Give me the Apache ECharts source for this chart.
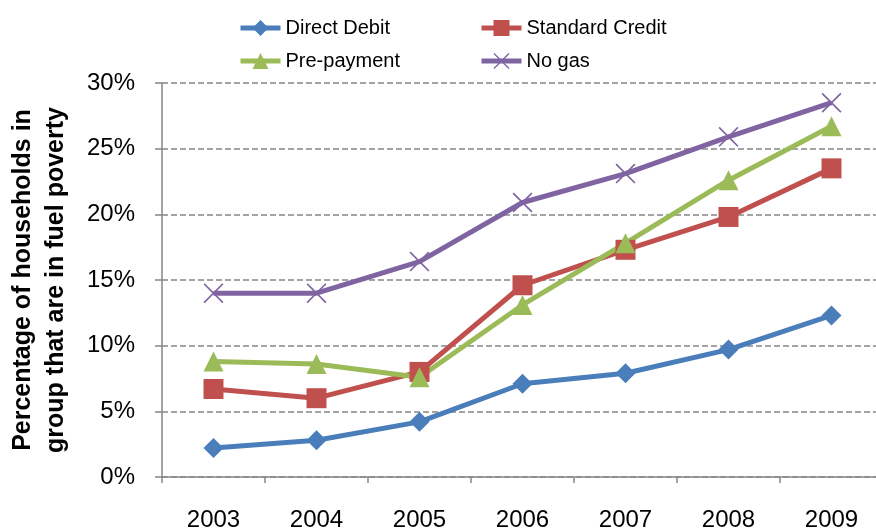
<!DOCTYPE html>
<html>
<head>
<meta charset="utf-8">
<script src="https://cdn.jsdelivr.net/npm/echarts@6/dist/echarts.min.js"></script>
<style>
html,body{margin:0;padding:0;background:#fff;}
#chart{width:876px;height:529px;}
</style>
</head>
<body>
<div id="chart"></div>
<script>
var years = ['2003','2004','2005','2006','2007','2008','2009'];
var directDebit = [2.2, 2.8, 4.2, 7.1, 7.9, 9.7, 12.3];
var standardCredit = [6.7, 6.0, 8.0, 14.6, 17.3, 19.8, 23.5];
var prePayment = [8.8, 8.6, 7.6, 13.1, 17.8, 22.6, 26.7];
var noGas = [14.0, 14.0, 16.4, 20.9, 23.1, 25.9, 28.5];
var yTicks = [0, 5, 10, 15, 20, 25, 30];

var crossPath = 'path://M0,6L6,0L50,44L94,0L100,6L56,50L100,94L94,100L50,56L6,100L0,94L44,50Z';
var gray = '#868686';
var fontMain = 'Liberation Sans, Arial, sans-serif';

var chart = echarts.init(document.getElementById('chart'));

function mkSeries(name, data, color, symbol, size) {
  return {
    name: name,
    type: 'line',
    data: data,
    symbol: symbol,
    symbolSize: size,
    showAllSymbol: true,
    lineStyle: { color: color, width: 5 },
    itemStyle: { color: color },
    emphasis: { disabled: true },
    z: 3
  };
}

function mkLegend(left, names) {
  return {
    orient: 'vertical',
    left: left, top: 18,
    padding: 0,
    itemWidth: 40, itemHeight: 20, itemGap: 13,
    lineStyle: { width: 5 },
    data: names,
    textStyle: { fontFamily: fontMain, fontSize: 20, color: '#000' }
  };
}

chart.setOption({
  animation: false,
  backgroundColor: '#fff',
  grid: { left: 162, right: -7, top: 83, bottom: 52, containLabel: false, outerBoundsMode: 'none' },
  legend: [
    mkLegend(238, ['Direct Debit', 'Pre-payment']),
    mkLegend(479, ['Standard Credit', 'No gas'])
  ],
  xAxis: {
    type: 'category',
    data: years,
    boundaryGap: true,
    axisLine: { lineStyle: { color: gray, width: 1.5 } },
    axisTick: { show: true, length: 6, interval: 0, lineStyle: { color: gray, width: 1.5 } },
    axisLabel: { color: '#000', fontFamily: fontMain, fontSize: 24, margin: 31, interval: 0 },
    splitLine: { show: false }
  },
  yAxis: {
    type: 'value',
    min: yTicks[0], max: yTicks[yTicks.length - 1], interval: 5,
    name: 'Percentage of households in\ngroup that are in fuel poverty',
    nameLocation: 'middle',
    nameRotate: 90,
    nameGap: 89,
    nameTextStyle: { fontFamily: fontMain, fontWeight: 'bold', fontSize: 25, color: '#000', lineHeight: 33 },
    axisLine: { show: true, lineStyle: { color: gray, width: 1.5 } },
    axisTick: { show: true, length: 7, lineStyle: { color: gray, width: 1.5 } },
    axisLabel: { color: '#000', fontFamily: fontMain, fontSize: 24, margin: 27, formatter: '{value}%' },
    splitLine: { show: true, lineStyle: { color: gray, width: 1.5, type: [6, 3] } }
  },
  series: [
    mkSeries('Direct Debit', directDebit, '#4A7EBB', 'diamond', 20),
    mkSeries('Standard Credit', standardCredit, '#C0504D', 'rect', 20),
    mkSeries('Pre-payment', prePayment, '#9BBB59', 'triangle', 20),
    mkSeries('No gas', noGas, '#8064A2', crossPath, 20)
  ]
});
</script>
</body>
</html>
